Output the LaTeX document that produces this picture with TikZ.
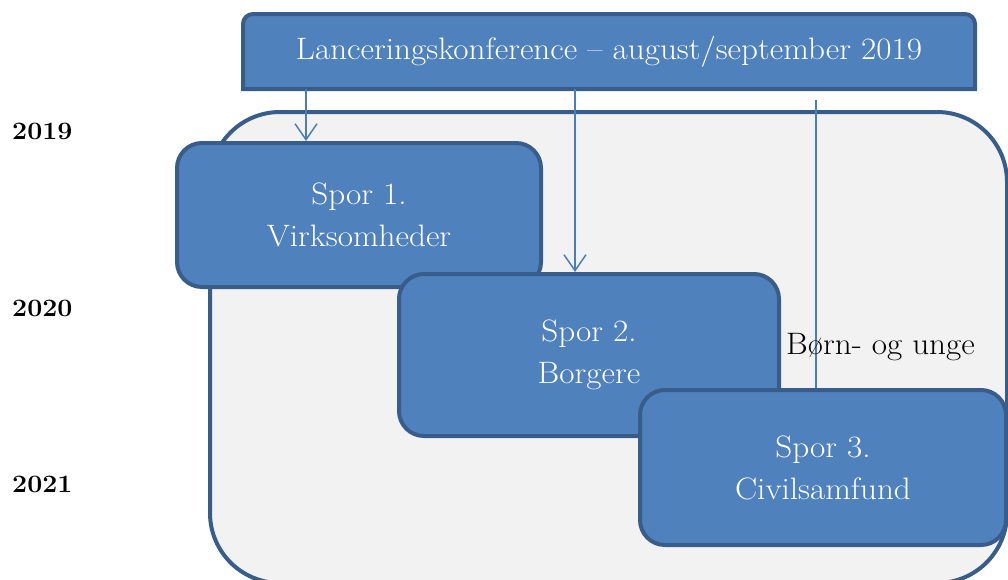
\documentclass[tikz,border=0pt]{standalone}
\usepackage{fontspec}
\setmainfont{Latin Modern Roman}[FakeStretch=1.07]
\usetikzlibrary{arrows.meta}
\definecolor{boxfill}{HTML}{4F81BD}
\definecolor{boxline}{HTML}{385D8A}
\definecolor{bgfill}{HTML}{F2F2F2}
\definecolor{conncol}{HTML}{4A7EBB}
\begin{document}
\begin{tikzpicture}[x=1pt,y=-1pt,
  spor/.style={draw=boxline, fill=boxfill, line width=4pt, rounded corners=25pt,
    text=white, font=\fontsize{31}{42}\selectfont, align=center, inner sep=0pt},
  topshape/.style={draw=boxline, fill=boxfill, line width=4pt},
  conn/.style={draw=conncol, line width=1.5pt},
  tip/.style={-{Straight Barb[length=16pt,width=22pt]}},
  year/.style={font=\bfseries\fontsize{25}{30}\selectfont, anchor=west, inner sep=0pt}]
\useasboundingbox (0,0) rectangle (1008,579);
\clip (0,0) rectangle (1008,579);
% background panel
\node[draw=boxline, fill=bgfill, line width=4pt, rounded corners=70pt,
  minimum width=797pt, minimum height=471pt, inner sep=0pt] (bg) at (608.5,347.5) {};
% top box
\draw[topshape] (243,89) -- (243,24) arc[start angle=180,end angle=90,radius=10pt]
  -- (965,14) arc[start angle=90,end angle=0,radius=10pt] -- (975,89) -- cycle;
\node[minimum width=732pt, minimum height=75pt, inner sep=0pt, text=white,
  font=\fontsize{31}{36}\selectfont] (top) at (609,51.5) {Lanceringskonference – august/september 2019};
% tracks
\node[spor, minimum width=364pt, minimum height=144pt] (s1) at (359,215) {Spor 1.\\Virksomheder};
\node[spor, minimum width=380pt, minimum height=162pt] (s2) at (589,355) {Spor 2.\\Borgere};
\node[spor, minimum width=366pt, minimum height=155pt] (s3) at (823,467.5) {Spor 3.\\Civilsamfund};
% connectors
\coordinate (x1) at (306,0);
\coordinate (x2) at (575,0);
\coordinate (c3) at (816,100);
\draw[conn,tip] (top.south -| x1) -- (s1.north -| x1);
\draw[conn,tip] (top.south -| x2) -- (s2.north -| x2);
\draw[conn] (c3) -- (s3.north -| c3);
% labels
\node[anchor=west, inner sep=0pt, font=\fontsize{31}{36}\selectfont] (bu) at (786,347) {Børn- og unge};
\node[year] (y1) at (12,131) {2019};
\node[year] (y2) at (12,308) {2020};
\node[year] (y3) at (12,484) {2021};
\end{tikzpicture}
\end{document}
